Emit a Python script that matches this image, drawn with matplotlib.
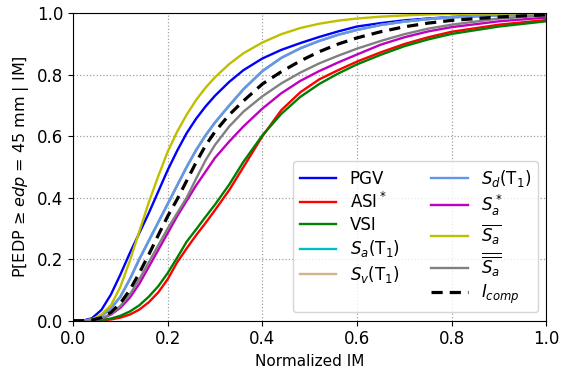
import matplotlib
matplotlib.use("Agg")
import matplotlib.pyplot as plt

im_norm = [0, 0.02, 0.04, 0.06, 0.08, 0.10, 0.12, 0.14, 0.16, 0.18, 0.20, 0.22, 0.24, 0.26, 0.28,
           0.30, 0.33, 0.36, 0.40, 0.44, 0.48, 0.52, 0.56, 0.60, 0.65, 0.70, 0.75, 0.80, 0.90, 1.00]

p_pgv = [0, 0.0, 0.008, 0.035, 0.085, 0.15, 0.22, 0.285, 0.35, 0.42, 0.49, 0.553, 0.61, 0.657, 0.697,
         0.732, 0.777, 0.815, 0.853, 0.881, 0.903, 0.923, 0.941, 0.957, 0.968, 0.977, 0.983, 0.988, 0.995, 0.998]
p_asi = [0, 0, 0, 0.001, 0.004, 0.01, 0.02, 0.036, 0.06, 0.092, 0.135, 0.19, 0.235, 0.278, 0.318,
         0.36, 0.425, 0.5, 0.6, 0.685, 0.743, 0.785, 0.815, 0.843, 0.873, 0.9, 0.922, 0.94, 0.963, 0.978]
p_vsi = [0, 0, 0, 0.002, 0.007, 0.016, 0.03, 0.05, 0.078, 0.112, 0.155, 0.205, 0.257, 0.297, 0.338,
         0.378, 0.443, 0.517, 0.603, 0.673, 0.728, 0.77, 0.804, 0.834, 0.865, 0.893, 0.915, 0.933, 0.957, 0.974]
p_sd = [0, 0, 0.003, 0.015, 0.04, 0.078, 0.135, 0.2, 0.26, 0.32, 0.38, 0.44, 0.5, 0.555, 0.603,
        0.645, 0.7, 0.753, 0.812, 0.855, 0.886, 0.91, 0.93, 0.946, 0.962, 0.973, 0.981, 0.987, 0.993, 0.996]
p_sa_t1 = list(p_sd)
p_sv_t1 = list(p_sd)
p_sd_t1 = list(p_sd)
p_sa_star = [0, 0, 0.001, 0.006, 0.02, 0.042, 0.075, 0.12, 0.175, 0.23, 0.285, 0.34, 0.39, 0.44, 0.485,
             0.53, 0.583, 0.632, 0.69, 0.74, 0.78, 0.812, 0.84, 0.866, 0.898, 0.922, 0.941, 0.955, 0.974, 0.986]
p_sa_avg = [0, 0, 0.004, 0.02, 0.05, 0.11, 0.195, 0.29, 0.385, 0.47, 0.55, 0.615, 0.67, 0.718, 0.758,
            0.792, 0.835, 0.87, 0.905, 0.932, 0.952, 0.966, 0.976, 0.983, 0.989, 0.993, 0.996, 0.998, 0.999, 1.0]
p_sa_avg2 = [0, 0, 0.001, 0.007, 0.022, 0.048, 0.085, 0.135, 0.19, 0.245, 0.3, 0.35, 0.4, 0.462, 0.522,
             0.572, 0.632, 0.68, 0.73, 0.772, 0.807, 0.837, 0.862, 0.885, 0.91, 0.932, 0.95, 0.963, 0.983, 0.993]
p_icomp = [0, 0, 0.002, 0.01, 0.027, 0.057, 0.1, 0.155, 0.215, 0.278, 0.34, 0.395, 0.455, 0.515, 0.57,
           0.615, 0.67, 0.715, 0.77, 0.81, 0.845, 0.875, 0.9, 0.92, 0.94, 0.956, 0.968, 0.977, 0.988, 0.995]

labels = ["PGV", "ASI$^*$", "VSI", r"$S_a(\mathrm{T}_1)$", r"$S_v(\mathrm{T}_1)$",
          r"$S_d(\mathrm{T}_1)$", r"$S_a^*$", r"$\overline{S_a}$",
          r"$\overline{\overline{S_a}}$", r"$I_{comp}$"]
series = [p_pgv, p_asi, p_vsi, p_sa_t1, p_sv_t1, p_sd_t1, p_sa_star, p_sa_avg, p_sa_avg2, p_icomp]
colors = ["blue", "red", "green", "c", "tan", "cornflowerblue", "m", "y", "gray", "black"]

fig = plt.figure(figsize=(5.66, 3.74), dpi=100)
ax = fig.add_axes([0.129, 0.1425, 0.8365, 0.822])

for lab, ys, col in zip(labels, series, colors):
    if lab == r"$I_{comp}$":
        ax.plot(im_norm, ys, color=col, lw=2.3, ls=(0, (3.5, 2.2)), label=lab, zorder=5)
    else:
        ax.plot(im_norm, ys, color=col, lw=1.7, label=lab)

ax.set_xlim(0, 1)
ax.set_ylim(0, 1)
ax.set_xticks([0, 0.2, 0.4, 0.6, 0.8, 1.0])
ax.set_yticks([0, 0.2, 0.4, 0.6, 0.8, 1.0])
ax.tick_params(labelsize=12)
ax.grid(True, ls=":", color="#a0a0a0", lw=0.9)
ax.set_xlabel("Normalized IM", fontsize=11)
ax.set_ylabel("P[EDP ≥ $edp$ = 45 mm | IM]", fontsize=11.5)
ax.legend(ncol=2, loc="lower right", fontsize=12, handlelength=2.2, handletextpad=0.8,
          columnspacing=1.9, labelspacing=0.25, borderaxespad=0.5)

fig.savefig("out.png", dpi=100)
